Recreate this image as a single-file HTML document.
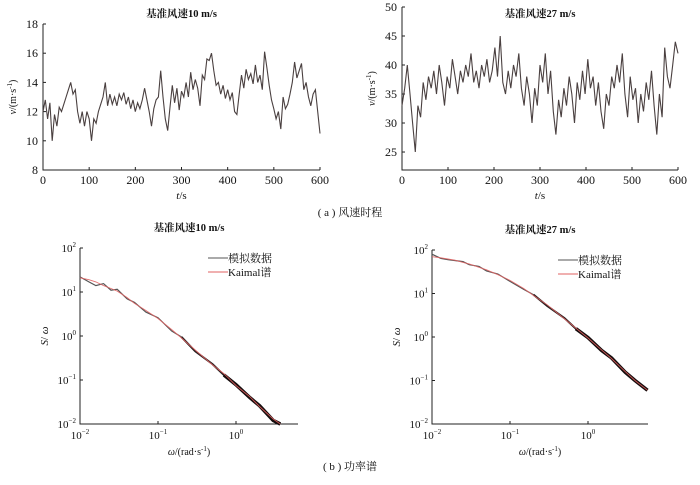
<!DOCTYPE html>
<html><head><meta charset="utf-8"><style>
body{margin:0;background:#fff}
svg{font-family:"Liberation Serif","Noto Serif CJK SC",serif}
</style></head><body>
<svg id="c" width="700" height="480" viewBox="0 0 700 480"></svg>
<script>
const ts1=[12,12.8,11.5,12.6,10,11.8,11,12.3,12,12.5,13,13.5,14,13.2,13.5,12,11.2,12,11,12,11.5,10,11.5,11.2,12,12.5,13,14,12.4,13.2,12.5,13,12.4,13.2,12.8,13.3,12.5,13,12.2,12.8,12,12.6,12.2,12.8,13.6,12.8,12,11,12.2,12.8,13,14.8,13,11.5,10.7,12.3,13.8,12.6,13.6,12.1,13.4,13,14,13,14.7,13.5,14.2,13.6,12.4,14.5,14.2,15.6,15.5,16,14.8,13.8,14,13.2,13.8,12.9,13.5,12.8,13.3,12,11.8,13.2,14.5,13.6,14.9,14.2,14.6,13.9,15.2,14,14.5,13.5,16.1,15,13.8,12.8,12.2,11.5,12,10.8,13,12.2,12.5,13.2,14,15.4,14.3,14.8,15.3,13.5,14,13,12.4,13.2,13.5,12,10.5];
const ts2=[33,36,40,35,30,25,33,31,37,34,38,36,39,35,40,37,33,38,36,41,38,35,39,37,40,38,42,37,39,36,40,38,41,37,39,43,38,45,37,35,39,36,40,38,42,36,33,38,35,30,36,33,40,37,42,35,39,32,28,34,31,36,33,38,35,30,37,34,39,35,41,36,38,33,37,32,29,35,33,38,36,40,37,42,35,31,38,34,36,30,35,32,37,34,39,33,28,35,31,43,38,36,40,44,42];
const omega1=[0.01,0.013,0.016,0.02,0.025,0.03,0.04,0.05,0.07,0.1,0.15,0.2,0.3,0.5,0.7,1,1.5,2,3,3.7];
const kaimal1=[21,19,17,14,12,10.5,7.5,5.5,3.8,2.5,1.4,0.9,0.48,0.22,0.14,0.075,0.042,0.025,0.013,0.01];
const sim1=[22,17,14,15.5,11,11.5,7,5.8,3.5,2.6,1.3,0.95,0.45,0.23,0.13,0.078,0.04,0.026,0.012,0.01];
const omega2=[0.01,0.013,0.016,0.02,0.025,0.03,0.04,0.05,0.07,0.1,0.15,0.2,0.3,0.5,0.7,1,1.5,2,3,4,5.8];
const kaimal2=[70,66,62,58,52,48,40,35,27,20,13,9,5.5,2.6,1.6,0.95,0.5,0.32,0.16,0.1,0.06];
const sim2=[80,64,60,57,54,46,42,33,28,19,12.5,9.4,5.2,2.7,1.55,0.97,0.49,0.33,0.155,0.1,0.06];
const NS="http://www.w3.org/2000/svg",svg=document.getElementById('c');
function el(t,a,txt){const e=document.createElementNS(NS,t);for(const k in a)e.setAttribute(k,a[k]);if(txt!==undefined)e.innerHTML=txt;svg.appendChild(e);return e;}
function txt(x,y,s,size,anchor,name,extra){const e=el('text',Object.assign({x:x,y:y,'font-size':size,'text-anchor':anchor||'middle',fill:'#111'},extra||{}),s);return e;}
function axes(x0,x1,y0,y1,name){const p=el('path',{d:`M${x0} ${y1}V${y0}H${x1}`,stroke:'#222',fill:'none','stroke-width':1});}
function timeChart(data,x0,x1,yTop,yBot,vmin,vmax,ticks,title,nm,titleY){
 const X=t=>x0+(x1-x0)*t/600,Y=v=>yBot-(yBot-yTop)*(v-vmin)/(vmax-vmin);
 axes(x0,x1,yBot,yTop,nm+'-axes');
 for(let t=0;t<=600;t+=100){el('line',{x1:X(t),x2:X(t),y1:yBot,y2:yBot-3,stroke:'#222'});txt(X(t),yBot+14,t,12,'middle',nm+'-x-tick');}
 ticks.forEach(v=>{el('line',{x1:x0,x2:x0+3,y1:Y(v),y2:Y(v),stroke:'#222'});txt(x0-5,Y(v)+4,v,12,'end',nm+'-y-tick');});
 const pts=data.map((v,i)=>X(i*600/(data.length-1)).toFixed(1)+','+Y(v).toFixed(1)).join(' ');
 const l=el('polyline',{points:pts,fill:'none',stroke:'#4a4040','stroke-width':1.1});
 txt((x0+x1)/2,titleY,title,10.5,'middle',nm+'-title',{'font-weight':'bold'});
 txt((x0+x1)/2,yBot+29,'<tspan font-style="italic">t</tspan>/s',11,'middle',nm+'-x-title');
 txt(0,0,'<tspan font-style="italic">v</tspan>/(m·s<tspan font-size="7" dy="-4">-1</tspan><tspan dy="4">)</tspan>',10,'middle',nm+'-y-title',{transform:`translate(${x0-27},${(yTop+yBot)/2}) rotate(-90)`});
}
timeChart(ts1,43,320,24,170,8,18,[8,10,12,14,16,18],'基准风速10 m/s','wind-10',17);
timeChart(ts2,402,678,7,170,21.9,50,[25,30,35,40,45,50],'基准风速27 m/s','wind-27',17);
function specChart(om,kai,sim,x0,dec,xr,yTop,yBot,title,nm){
 const X=w=>x0+dec*(Math.log10(w)+2),Y=s=>yBot-(yBot-yTop)*(Math.log10(s)+2)/4;
 axes(x0,xr,yBot,yTop,nm+'-axes');
 [-2,-1,0].forEach(e=>{el('line',{x1:X(Math.pow(10,e)),x2:X(Math.pow(10,e)),y1:yBot,y2:yBot-3,stroke:'#222'});txt(X(Math.pow(10,e)),yBot+15,`10<tspan font-size="7" dy="-5">${e<0?'−'+(-e):e}</tspan>`,11,'middle',nm+'-x-tick');});
 [-2,-1,0,1,2].forEach(e=>{const y=Y(Math.pow(10,e));el('line',{x1:x0,x2:x0+3,y1:y,y2:y,stroke:'#222'});txt(x0-4,y+4,`10<tspan font-size="7" dy="-5">${e<0?'−'+(-e):e}</tspan>`,11,'end',nm+'-y-tick');});
 const ps=om.map((w,i)=>X(w).toFixed(1)+','+Y(sim[i]).toFixed(1)).join(' ');
 const s1=el('polyline',{points:ps,fill:'none',stroke:'#555','stroke-width':1.2});
 const mid=om.map((w,i)=>[w,sim[i]]).filter(d=>d[0]>=0.2).map(d=>X(d[0]).toFixed(1)+','+Y(d[1]).toFixed(1)).join(' ');
 const s2=el('polyline',{points:mid,fill:'none',stroke:'#2a2020','stroke-width':2});
 const hi=om.map((w,i)=>[w,sim[i]]).filter(d=>d[0]>=0.7).map(d=>X(d[0]).toFixed(1)+','+Y(d[1]).toFixed(1)).join(' ');
 const s3=el('polyline',{points:hi,fill:'none',stroke:'#140c0c','stroke-width':3.5});
 const pk=om.map((w,i)=>X(w).toFixed(1)+','+Y(kai[i]).toFixed(1)).join(' ');
 const k=el('polyline',{points:pk,fill:'none',stroke:'#e06060','stroke-width':0.9,opacity:0.9});
 txt((x0+xr)/2,yTop-17,title,10.5,'middle',nm+'-title',{'font-weight':'bold'});
 txt((x0+xr)/2,yBot+31,'<tspan font-style="italic">ω</tspan>/(rad·s<tspan font-size="7" dy="-4">-1</tspan><tspan dy="4">)</tspan>',10,'middle',nm+'-x-title');
 txt(0,0,'<tspan font-style="italic">S</tspan>/ <tspan font-style="italic">ω</tspan>',11,'middle',nm+'-y-title',{transform:`translate(${x0-32},${(yTop+yBot)/2}) rotate(-90)`});
 const lx=xr-70;
 el('line',{x1:lx-20,x2:lx,y1:yTop+10,y2:yTop+10,stroke:'#555'});
 txt(lx,yTop+14,'模拟数据',11,'start',nm+'-legend-sim');
 el('line',{x1:lx-20,x2:lx,y1:yTop+24,y2:yTop+24,stroke:'#e06060'});
 txt(lx,yTop+28,'Kaimal谱',11,'start',nm+'-legend-kaimal');
}
specChart(omega1,kaimal1,sim1,80,78,298,248,424,'基准风速10 m/s','spec-10');
specChart(omega2,kaimal2,sim2,432,78,648,250,424,'基准风速27 m/s','spec-27');
txt(350,216,'( a ) 风速时程',11,'middle','caption-a');
txt(350,470,'( b ) 功率谱',11,'middle','caption-b');
</script>
</body></html>
